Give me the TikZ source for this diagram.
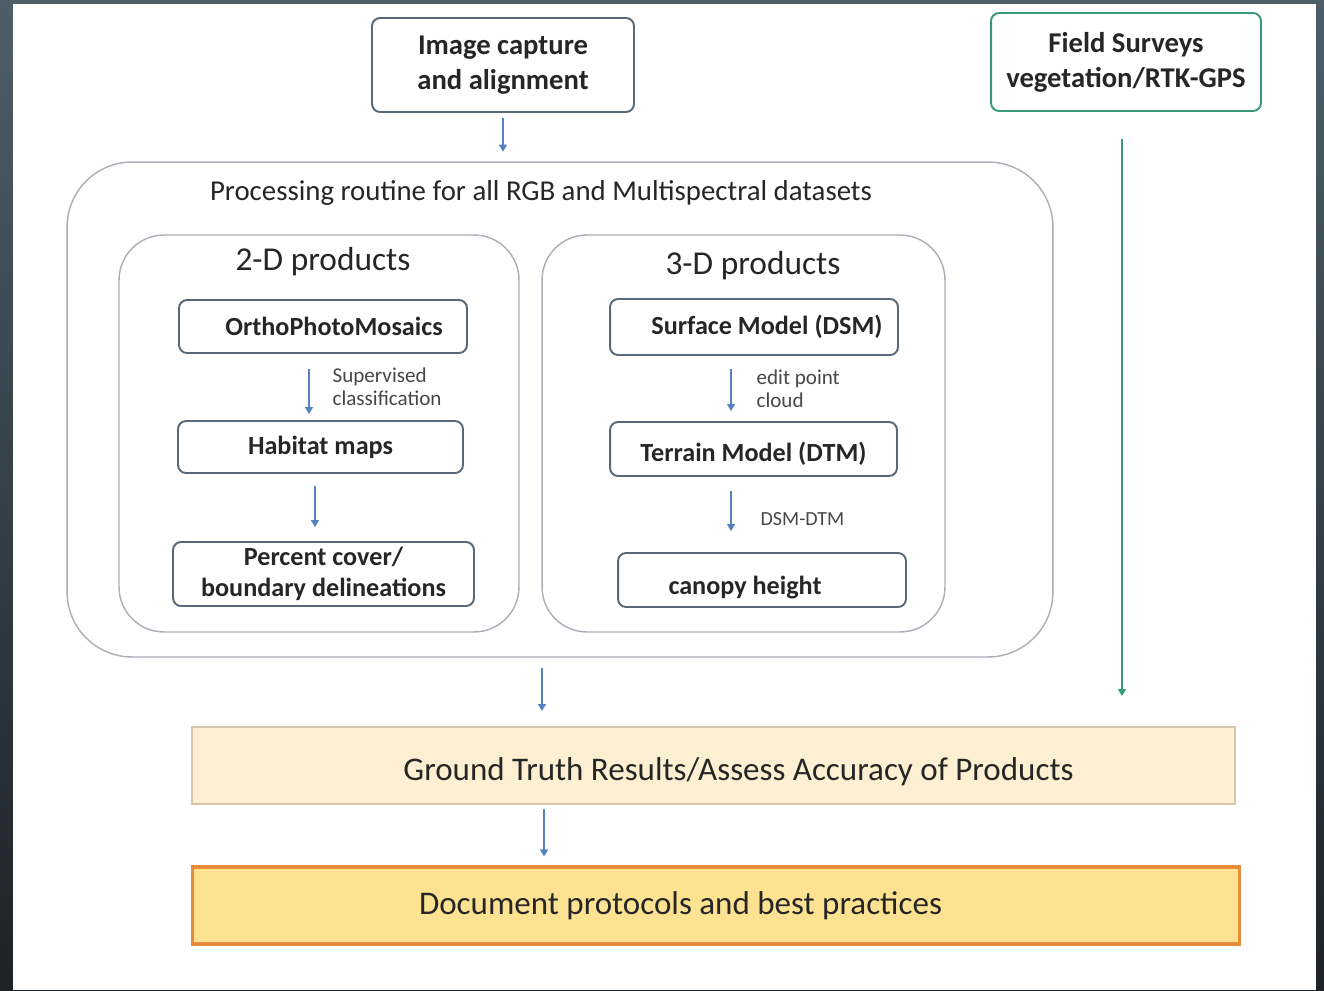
\documentclass[tikz,border=0pt]{standalone}
\usepackage{fontspec}
\setmainfont{Carlito}
\usetikzlibrary{arrows.meta, positioning}
\definecolor{boxline}{RGB}{88,104,120}
\definecolor{frameline}{RGB}{168,175,182}
\definecolor{flowblue}{RGB}{84,130,190}
\definecolor{fieldgreen}{RGB}{56,152,120}
\definecolor{truthfill}{RGB}{253,240,210}
\definecolor{truthline}{RGB}{214,198,170}
\definecolor{docfill}{RGB}{253,226,146}
\definecolor{docline}{RGB}{232,140,60}
\definecolor{txt}{RGB}{38,38,38}
\definecolor{slatetop}{RGB}{78,94,104}
\definecolor{slatebot}{RGB}{28,34,40}
\newcommand{\lowered}[2]{\raisebox{-#1}[\height][\depth]{#2}}

\begin{document}
\begin{tikzpicture}[x=0.02cm, y=-0.02cm,
  stepbox/.style={draw=boxline, line width=1.1pt, rounded corners=0.16cm, fill=white, text=txt,
    font=\fontsize{14.9}{17.6}\selectfont\bfseries, align=center, inner sep=0pt},
  topbox/.style={stepbox, font=\fontsize{16.3}{20}\selectfont\bfseries},
  group/.style={draw=frameline, line width=0.8pt, rounded corners=0.9cm, inner sep=0pt},
  flow/.style={draw=flowblue, line width=0.7pt, -{Triangle[width=4.5pt,length=4pt]}},
  note/.style={text=txt!85, font=\fontsize{12}{13}\selectfont, align=left, inner sep=0pt}]
\useasboundingbox (0,0) rectangle (1324,990);
% frame round the slide
\shade[top color=slatetop, bottom color=slatebot] (0,0) rectangle (1324,990);
\fill[white] (13,4) rectangle (1316,990);

% top boxes
\node[topbox, minimum width=5.24cm, minimum height=1.88cm] (img) at (503,65) {Image capture\\and alignment};
\node[topbox, draw=fieldgreen, minimum width=5.4cm, minimum height=1.96cm] (field) at (1126,62) {Field Surveys\\vegetation/RTK-GPS};

% processing routine
\node[group, rounded corners=1.3cm, minimum width=19.72cm, minimum height=9.9cm] (proc) at (560,409.5) {};
\node[text=txt, font=\fontsize{16.4}{19}\selectfont] (ptitle) at (541,193) {Processing routine for all RGB and Multispectral datasets};
\node[group, minimum width=8cm, minimum height=7.94cm] (twod) at (319,433.5) {};
\node[group, minimum width=8.06cm, minimum height=7.94cm] (threed) at (743.5,433.5) {};
\node[text=txt, font=\fontsize{19}{21}\selectfont] (twodtitle) at (323,262) {2-D products};
\node[text=txt, font=\fontsize{19}{21}\selectfont] (threedtitle) at (753,266) {3-D products};

% 2-D chain
\node[stepbox, minimum width=5.76cm, minimum height=1.06cm] (ortho) at (323,326.5) {\hspace*{0.44cm}OrthoPhotoMosaics};
\node[stepbox, minimum width=5.7cm, minimum height=1.04cm] (habitat) at (320.5,447) {Habitat maps};
\node[stepbox, minimum width=6.02cm, minimum height=1.28cm] (cover) at (323.5,574) {Percent cover/\\boundary delineations};

% 3-D chain
\node[stepbox, minimum width=5.76cm, minimum height=1.12cm] (dsm) at (754,327) {\hspace*{0.52cm}Surface Model (DSM)};
\node[stepbox, minimum width=5.74cm, minimum height=1.08cm] (dtm) at (753.5,449) {\lowered{2.8pt}{Terrain Model (DTM)}};
\node[stepbox, minimum width=5.76cm, minimum height=1.08cm] (canopy) at (762,580) {\lowered{4.5pt}{canopy height}\hspace*{0.68cm}};

% results
\node[draw=truthline, fill=truthfill, line width=1.2pt, minimum width=20.86cm, minimum height=1.54cm,
  text=txt, font=\fontsize{18.8}{21}\selectfont] (truth) at (713.5,765.5) {\hspace*{1cm}\lowered{3.4pt}{Ground Truth Results/Assess Accuracy of Products}};
\node[draw=docline, fill=docfill, line width=1.8pt, minimum width=20.96cm, minimum height=1.54cm,
  text=txt, font=\fontsize{18.8}{21}\selectfont] (doc) at (716,905.5) {Document protocols and best practices\hspace*{1.42cm}};

% arrows
\draw[flow, shorten <=3pt, shorten >=5.5pt] (img.south) -- (img.south |- proc.north);
\draw[flow, shorten <=8.5pt, shorten >=3.4pt] ([xshift=-0.28cm]ortho.south) -- ([xshift=-0.28cm]ortho.south |- habitat.north)
  node[note, midway, right=0.46cm] {Supervised\\classification};
\draw[flow, shorten <=6.8pt, shorten >=7.9pt] ([xshift=-0.11cm]habitat.south) -- ([xshift=-0.11cm]habitat.south |- cover.north);
\draw[flow, shorten <=7.4pt, shorten >=5.7pt] ([xshift=-0.46cm]dsm.south) -- ([xshift=-0.46cm]dsm.south |- dtm.north)
  node[note, midway, right=0.5cm] {edit point\\cloud};
\draw[flow, shorten <=7.9pt, shorten >=11.9pt] ([xshift=-0.45cm]dtm.south) -- ([xshift=-0.45cm]dtm.south |- canopy.north)
  node[note, midway, right=0.58cm, yshift=-0.1cm, font=\fontsize{11.4}{13}\selectfont] {DSM-DTM};
\draw[flow, line width=1.3pt, shorten <=5.7pt, shorten >=8.5pt] ([xshift=-0.36cm]proc.south) -- ([xshift=-0.36cm]proc.south |- truth.north);
\draw[flow, line width=1.3pt, shorten <=2.3pt, shorten >=5.1pt] ([xshift=-3.39cm]truth.south) -- ([xshift=-3.39cm]truth.south |- doc.north);
\draw[flow, draw=fieldgreen, line width=0.8pt, fieldgreen, shorten <=15.3pt, shorten >=17pt] ([xshift=-0.08cm]field.south) -- ([xshift=-0.08cm]field.south |- truth.north);
\end{tikzpicture}
\end{document}
